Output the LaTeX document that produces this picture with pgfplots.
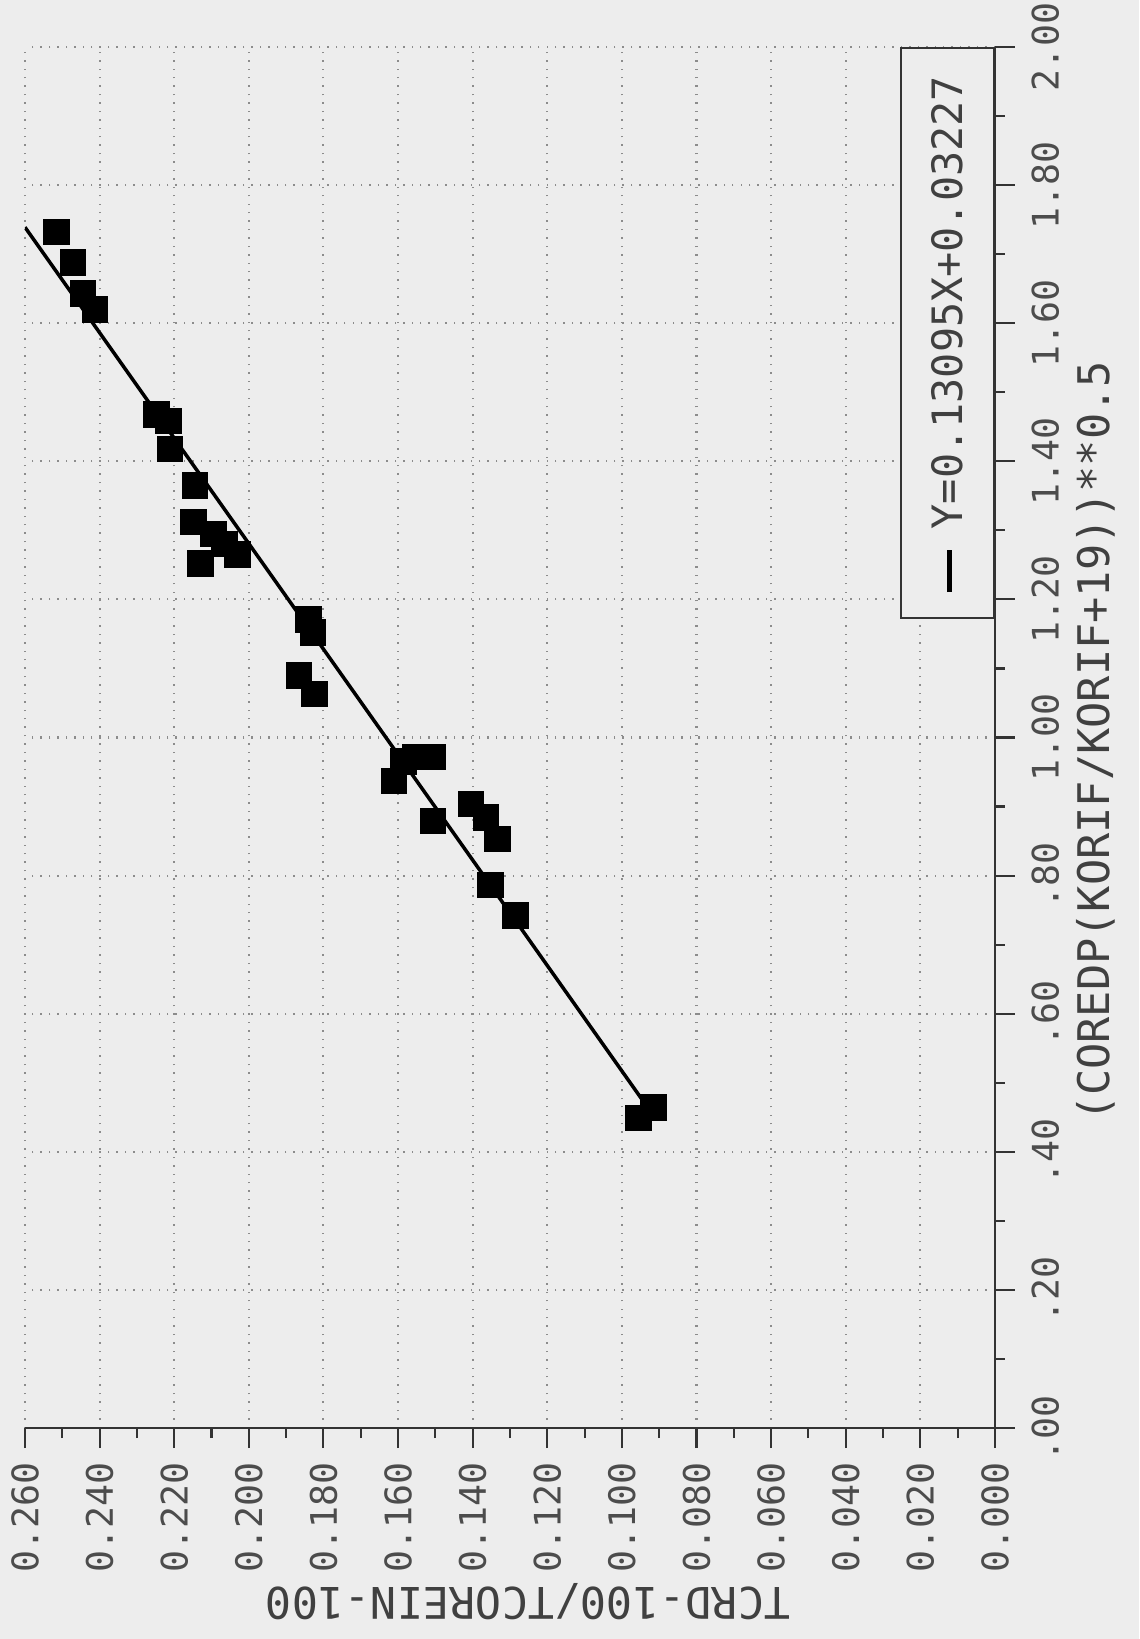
\documentclass[border=0pt]{standalone}
\usepackage{fontspec}
\usepackage{pgfplots}
\pgfplotsset{compat=1.18}
\setmainfont{DejaVu Sans}
% plotter-style lettering: monospaced sans
\newfontfamily\plotterfont{DejaVu Sans Mono}
\newfontfamily\plottitlefont{DejaVu Sans Mono}
\newcommand{\ticklab}{\plotterfont\fontsize{10.4}{12}\selectfont}
\newcommand{\titlelab}{\plottitlefont\fontsize{12.4}{14}\selectfont}
\newcommand{\legendlab}{\plottitlefont\fontsize{11.9}{14}\selectfont}
\definecolor{paper}{gray}{0.93}

\begin{document}
\begin{tikzpicture}
\fill[paper] (-2.5mm,-21.1mm) rectangle (111.4mm,142.8mm);
\begin{axis}[
  name=ax, at={(0,0)}, anchor=south west,
  scale only axis, width=97.0mm, height=138.1mm,
  xmin=0, xmax=0.26, ymin=0, ymax=2,
  x dir=reverse,
  axis x line=bottom, axis y line=right,
  axis line style={-, black!80, line width=0.7pt},
  tick align=outside,
  major tick length=2.0mm, minor tick length=1.0mm,
  tick style={black!80, line width=0.6pt},
  xtick={0,0.02,0.04,0.06,0.08,0.10,0.12,0.14,0.16,0.18,0.20,0.22,0.24,0.26},
  xticklabels={0.000,0.020,0.040,0.060,0.080,0.100,0.120,0.140,0.160,0.180,0.200,0.220,0.240,0.260},
  minor xtick={0.01,0.03,0.05,0.07,0.09,0.11,0.13,0.15,0.17,0.19,0.21,0.23,0.25},
  ytick={0,0.2,0.4,0.6,0.8,1.0,1.2,1.4,1.6,1.8,2.0},
  yticklabels={.00,.20,.40,.60,.80,1.00,1.20,1.40,1.60,1.80,2.00},
  minor ytick={0.1,0.3,0.5,0.7,0.9,1.1,1.3,1.5,1.7,1.9},
  grid=major,
  grid style={black!45, dotted, line width=0.6pt},
  xticklabel shift=0.2mm, yticklabel shift=0.4mm,
  xticklabel style={rotate=90, anchor=east, font=\ticklab, text=black!70},
  yticklabel style={rotate=90, anchor=north, font=\ticklab, text=black!70},
]
% measured points: TCRD-100/TCOREIN-100 against (COREDP(KORIF/(KORIF+19)))**0.5
\addplot[only marks, mark=square*, mark size=1.25mm, black] coordinates {
  (0.2515,1.732) (0.2472,1.688) (0.2444,1.643) (0.2412,1.620)
  (0.2248,1.468) (0.2215,1.458) (0.2212,1.418)
  (0.2145,1.365) (0.2148,1.312) (0.2095,1.295) (0.2065,1.280) (0.2030,1.265) (0.2130,1.252)
  (0.1840,1.171) (0.1828,1.152) (0.1865,1.090) (0.1824,1.063)
  (0.1611,0.937) (0.1585,0.965) (0.1555,0.972) (0.1508,0.972)
  (0.1507,0.879) (0.1405,0.904) (0.1365,0.884) (0.1333,0.853) (0.1352,0.786) (0.1285,0.742)
  (0.0955,0.449) (0.0915,0.464)
};
% least-squares line Y = 0.13095 X + 0.03227
\addplot[black, line width=1pt] coordinates {(0.0911,0.449) (0.2600,1.739)};
\end{axis}
\node[rotate=180, font=\titlelab, text=black!75] at ([xshift=1.8mm, yshift=-17.4mm]ax.south) {TCRD-100/TCOREIN-100};
\node[rotate=90, font=\titlelab, text=black!75] at ([xshift=10.1mm, yshift=-0.4mm]ax.east) {(COREDP(KORIF/KORIF+19))**0.5};
\node[draw=black!80, line width=0.7pt, fill=paper, rotate=90, anchor=south east,
      minimum width=57mm, minimum height=9.3mm, inner sep=0pt,
      font=\legendlab, text=black!75]
  at (ax.north east) {\makebox[57mm][l]{\hspace{2.6mm}\textcolor{black}{\rule[1.0mm]{4.2mm}{1.6pt}}\hspace{2.1mm}Y=0.13095X+0.03227}};
\pgfresetboundingbox
\path (-2.5mm,-21.1mm) rectangle (111.4mm,142.8mm);
\end{tikzpicture}
\end{document}
